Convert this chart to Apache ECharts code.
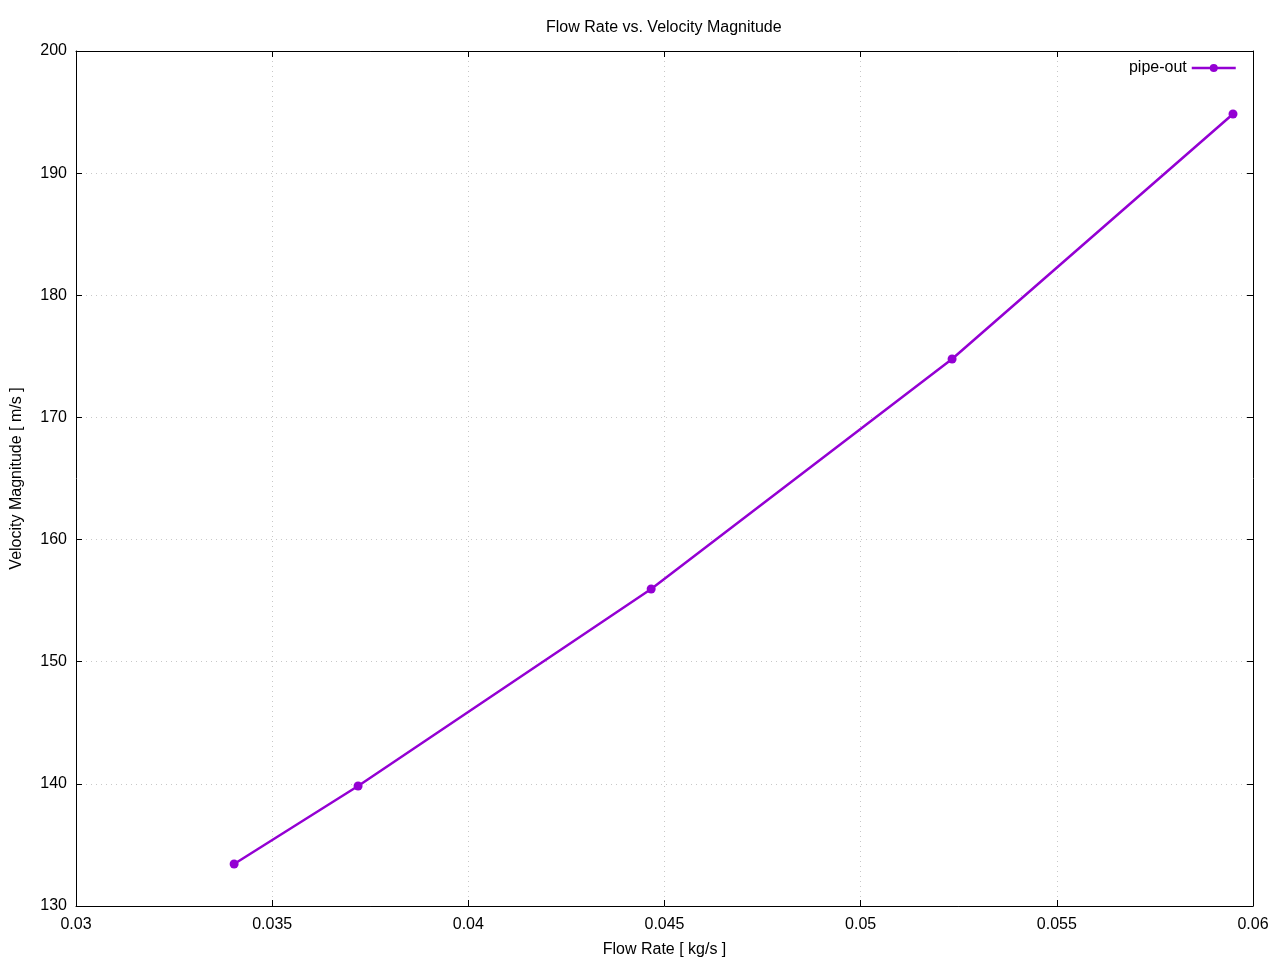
<!DOCTYPE html>
<html>
<head>
<meta charset="utf-8">
<title>Flow Rate vs. Velocity Magnitude</title>
<script src="https://cdn.jsdelivr.net/npm/echarts@6/dist/echarts.min.js"></script>
<style>
  html, body { margin: 0; padding: 0; background: #fff; }
  #chart { width: 1280px; height: 960px; }
</style>
</head>
<body>
<div id="chart"></div>
<script>
// flow rate [kg/s] and velocity magnitude [m/s]
const flowRate = [0.03403, 0.03719, 0.04466, 0.05233, 0.05949];
const velocity = [133.44, 139.82, 155.95, 174.78, 194.84];
const seriesName = 'pipe-out';

const color = '#9400d3';
const font = 'Liberation Sans, Arial, sans-serif';

const points = flowRate.map((x, i) => [x, velocity[i]]);

const chart = echarts.init(document.getElementById('chart'));

const tickStyle = { inside: true, length: 6, lineStyle: { color: '#000', width: 1 } };
const gridLine = { show: true, lineStyle: { color: '#c8c8c8', type: [1, 4], width: 1 } };

const option = {
  backgroundColor: '#fff',
  animation: false,
  title: {
    // centred over the plot area, not the canvas
    text: 'Flow Rate vs. Velocity Magnitude',
    left: 541,
    top: 15,
    textStyle: { fontFamily: font, fontSize: 16, fontWeight: 'normal', color: '#000' }
  },
  legend: {
    data: [seriesName],
    right: 38,
    top: 55,
    align: 'right',
    itemWidth: 44,
    itemHeight: 10,
    itemGap: 8,
    lineStyle: { width: 2.5 },
    textStyle: { fontFamily: font, fontSize: 16, color: '#000' }
  },
  grid: {
    left: 76, top: 51, width: 1177, height: 855,
    containLabel: false,
    outerBoundsMode: 'none'
  },
  xAxis: [
    {
      type: 'value',
      min: 0.03,
      max: 0.06,
      interval: 0.005,
      name: 'Flow Rate [ kg/s ]',
      nameLocation: 'middle',
      nameGap: 36,
      nameTextStyle: { fontFamily: font, fontSize: 16, color: '#000' },
      axisLine: { show: true, onZero: false, lineStyle: { color: '#000', width: 1 } },
      axisTick: tickStyle,
      axisLabel: { fontFamily: font, fontSize: 16, color: '#000', margin: 11 },
      splitLine: gridLine
    },
    {
      type: 'value',
      position: 'top',
      min: 0.03,
      max: 0.06,
      interval: 0.005,
      axisLine: { show: true, onZero: false, lineStyle: { color: '#000', width: 1 } },
      axisTick: tickStyle,
      axisLabel: { show: false },
      splitLine: { show: false }
    }
  ],
  yAxis: [
    {
      type: 'value',
      min: 130,
      max: 200,
      interval: 10,
      name: 'Velocity Magnitude [ m/s ]',
      nameLocation: 'middle',
      nameGap: 51,
      nameTextStyle: { fontFamily: font, fontSize: 16, color: '#000' },
      axisLine: { show: true, onZero: false, lineStyle: { color: '#000', width: 1 } },
      axisTick: tickStyle,
      axisLabel: { fontFamily: font, fontSize: 16, color: '#000', margin: 9 },
      splitLine: gridLine
    },
    {
      type: 'value',
      position: 'right',
      min: 130,
      max: 200,
      interval: 10,
      axisLine: { show: true, onZero: false, lineStyle: { color: '#000', width: 1 } },
      axisTick: tickStyle,
      axisLabel: { show: false },
      splitLine: { show: false }
    }
  ],
  series: [
    {
      name: seriesName,
      type: 'line',
      data: points,
      xAxisIndex: 0,
      yAxisIndex: 0,
      symbol: 'circle',
      symbolSize: 9,
      itemStyle: { color: color },
      lineStyle: { color: color, width: 2.5 }
    }
  ]
};

chart.setOption(option);
</script>
</body>
</html>
